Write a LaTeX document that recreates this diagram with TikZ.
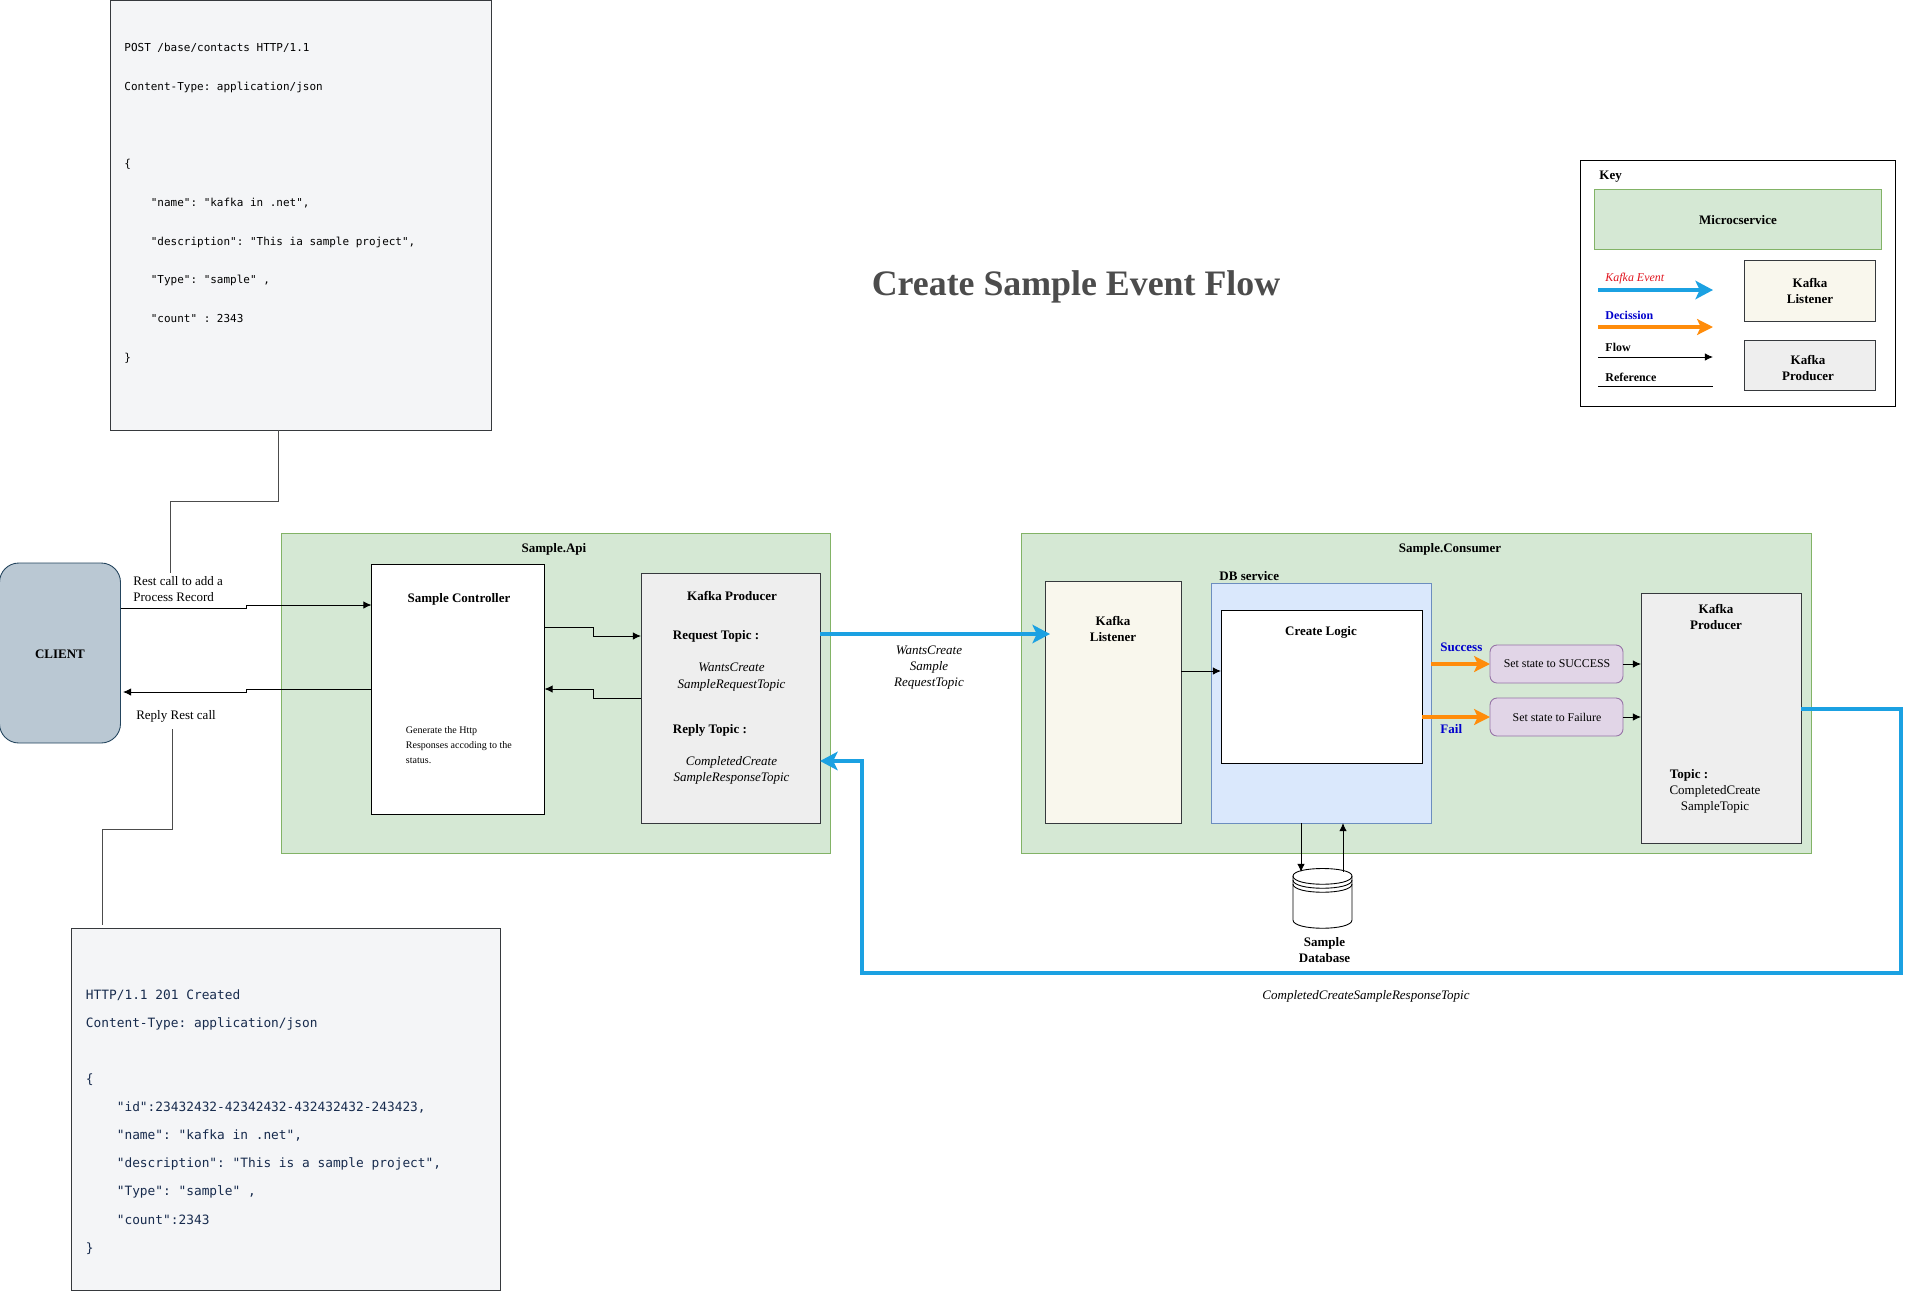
\documentclass[tikz,border=0pt]{standalone}
\usepackage{fontspec}
\setmainfont{Liberation Serif}
\setmonofont{DejaVu Sans Mono}
\usetikzlibrary{arrows.meta}
\newlength\pxu
\setlength\pxu{0.02cm}
\definecolor{svcfill}{HTML}{D5E8D4}
\definecolor{svcline}{HTML}{82B366}
\definecolor{lisfill}{HTML}{F9F7ED}
\definecolor{prodfill}{HTML}{EEEEEE}
\definecolor{boxline}{HTML}{36393D}
\definecolor{codefill}{HTML}{F4F5F7}
\definecolor{codetext}{HTML}{172B4D}
\definecolor{clientfill}{HTML}{BAC8D3}
\definecolor{clientline}{HTML}{23445D}
\definecolor{dbsfill}{HTML}{DAE8FC}
\definecolor{dbsline}{HTML}{6C8EBF}
\definecolor{statefill}{HTML}{E1D5E7}
\definecolor{stateline}{HTML}{9673A6}
\definecolor{kafkablue}{HTML}{1BA1E2}
\definecolor{decorange}{HTML}{FF8C0A}
\definecolor{labelblue}{HTML}{0000CC}
\definecolor{labelred}{HTML}{E1141E}
\tikzset{
	blk/.style={draw, inner sep=0pt, outer sep=0pt},
	svc/.style={blk, fill=svcfill, draw=svcline},
	listener/.style={blk, fill=lisfill, draw=boxline},
	producer/.style={blk, fill=prodfill, draw=boxline},
	whitebox/.style={blk, fill=white},
	state/.style={blk, fill=statefill, draw=stateline, rounded corners=4pt},
	codebox/.style={blk, fill=codefill, draw=boxline},
	txt/.style={inner sep=0pt, align=center, font=\fontsize{7.4}{9.2}\selectfont},
	btxt/.style={txt, font=\fontsize{7.4}{9.2}\selectfont\bfseries},
	itxt/.style={txt, font=\fontsize{7.4}{9.2}\selectfont\itshape},
	code/.style={inner sep=0pt, anchor=north west, align=left},
	flow/.style={->,>={Latex[length=4.6pt,width=4.2pt]}},
	refline/.style={draw=black!70},
	event/.style={-{Stealth[length=10pt,width=10.5pt,inset=2.5pt]}, draw=kafkablue, line width=2.2pt},
	decision/.style={-{Stealth[length=9pt,width=9pt,inset=2pt]}, draw=decorange, line width=1.8pt}
}
\newcommand{\ind}{\phantom{xxxx}}
\begin{document}
\begin{tikzpicture}[x=\pxu, y=-\pxu, line width=0.5pt]
	\useasboundingbox (0,0) rectangle (1911,1292);

	\node[font=\fontsize{20.4}{24}\selectfont\bfseries, text=black!70, inner sep=0pt] (title) at (1076,287) {Create Sample Event Flow};

	% request and response bodies
	\node[codebox, minimum width=381\pxu, minimum height=430\pxu] (req) at (300.5,215) {};
	\node[code, font=\fontsize{6.25}{22}\ttfamily] (reqtext) at (124,43) {POST /base/contacts HTTP/1.1\\
		Content-Type: application/json\\
		\mbox{}\\
		\{\\
		\ind"name": "kafka in .net",\\
		\ind"description": "This ia sample project",\\
		\ind"Type": "sample" ,\\
		\ind"count" : 2343\\
		\}};
	\node[codebox, minimum width=429\pxu, minimum height=362\pxu] (res) at (285.5,1109) {};
	\node[code, font=\fontsize{7.3}{16}\ttfamily, text=codetext] (restext) at (85.5,989) {HTTP/1.1 201 Created\\
		Content-Type: application/json\\
		\mbox{}\\
		\{\\
		\ind"id":23432432-42342432-432432432-243423,\\
		\ind"name": "kafka in .net",\\
		\ind"description": "This is a sample project",\\
		\ind"Type": "sample" ,\\
		\ind"count":2343\\
		\}};

	% client
	\node[blk, fill=clientfill, draw=clientline, rounded corners=11pt, minimum width=121\pxu, minimum height=180\pxu] (client) at (60,653) {};
	\node[btxt] (clienttext) at (60,654) {CLIENT};
	\node[txt, align=left, anchor=west] (resttext) at (133,589) {Rest call to add a\\Process Record};
	\node[txt] (replytext) at (176,716) {Reply Rest call};

	% Sample.Api
	\node[svc, minimum width=549\pxu, minimum height=320\pxu] (api) at (555.5,693) {};
	\node[btxt] (apitext) at (554,549) {Sample.Api};
	\node[whitebox, minimum width=173\pxu, minimum height=250\pxu] (ctrl) at (458,689) {};
	\node[btxt] (ctrltext) at (459,599) {Sample Controller};
	\node[txt, font=\fontsize{5.7}{8.7}\selectfont, align=left, anchor=west] (ctrlnote) at (405.5,745) {Generate the Http\\Responses accoding to the\\status.};
	\node[producer, minimum width=179\pxu, minimum height=250\pxu] (prod) at (730.5,698) {};
	\node[btxt] (prodtext) at (732,596) {Kafka Producer};
	\node[btxt, anchor=west] (reqtopic) at (672.5,636.5) {Request Topic :};
	\node[itxt] (reqname) at (731.5,677) {WantsCreate\\SampleRequestTopic};
	\node[btxt, anchor=west] (reptopic) at (672.5,730.5) {Reply Topic :};
	\node[itxt] (repname) at (731.5,770) {CompletedCreate\\SampleResponseTopic};

	% Sample.Consumer
	\node[svc, minimum width=790\pxu, minimum height=320\pxu] (cons) at (1416.5,693) {};
	\node[btxt] (constext) at (1450,549) {Sample.Consumer};
	\node[listener, minimum width=136\pxu, minimum height=242\pxu] (lis) at (1113,702) {};
	\node[btxt] (listext) at (1113,629) {Kafka\\Listener};
	\node[blk, fill=dbsfill, draw=dbsline, minimum width=220\pxu, minimum height=240\pxu] (dbs) at (1321,703) {};
	\node[btxt, anchor=west] (dbstext) at (1219,576) {DB service};
	\node[whitebox, minimum width=201\pxu, minimum height=153\pxu] (logic) at (1321.5,686.5) {};
	\node[btxt] (logictext) at (1321,632) {Create Logic};
	\node[state, minimum width=133\pxu, minimum height=38\pxu] (ok) at (1556.5,664) {};
	\node[txt, font=\fontsize{6.75}{8}\selectfont] (oktext) at (1557,664) {Set state to SUCCESS};
	\node[state, minimum width=133\pxu, minimum height=38\pxu] (fail) at (1556.5,717) {};
	\node[txt, font=\fontsize{6.75}{8}\selectfont] (failtext) at (1557,717) {Set state to Failure};
	\node[btxt, text=labelblue, anchor=west] (oklabel) at (1440,647) {Success};
	\node[btxt, text=labelblue, anchor=west] (faillabel) at (1440,729) {Fail};
	\node[producer, minimum width=160\pxu, minimum height=250\pxu] (prodb) at (1721,718) {};
	\node[btxt] (prodbtext) at (1716,617) {Kafka\\Producer};
	\node[btxt, anchor=west] (topictext) at (1669.5,775.5) {Topic :};
	\node[txt] (topicname) at (1715,799) {CompletedCreate\\SampleTopic};

	% database
	\node[minimum width=60\pxu, minimum height=60\pxu, inner sep=0pt, outer sep=0pt] (db) at (1322,898) {};
	\draw[fill=white] (1293,876) .. controls (1293,866) and (1352,866) .. (1352,876) -- (1352,920)
		.. controls (1352,931) and (1293,931) .. (1293,920) -- cycle;
	\foreach \dy in {876,880,884}
		\draw (1293,\dy) .. controls (1293,\dy+11) and (1352,\dy+11) .. (1352,\dy);
	\node[btxt] (dbtext) at (1324.5,950) {Sample\\Database};

	% connectors
	\draw[refline] (req.south -| 278,0) -- (278,501) -- (170,501) -- (170,573);
	\draw[refline] (172,729) -- (172,829) -- (102,829) -- (102,925);
	\draw[flow] (client.east |- 0,608) -- (246,608) -- (246,605) -- (ctrl.west |- 0,605);
	\draw[flow] (ctrl.west |- 0,689) -- (246,689) -- (246,692) -- (123,692);
	\draw[flow] (ctrl.east |- 0,627) -- (593,627) -- (593,636) -- (prod.west |- 0,636);
	\draw[flow] (prod.west |- 0,698) -- (593,698) -- (593,689) -- (ctrl.east |- 0,689);
	\draw[flow] (lis.east |- 0,671) -- (logic.west |- 0,671);
	\draw[flow] (ok.east) -- (prodb.west |- ok.east);
	\draw[flow] (fail.east) -- (prodb.west |- fail.east);
	\draw[flow] (dbs.south -| 1301,0) -- (1301,872);
	\draw[flow] (1343,872) -- (dbs.south -| 1343,0);
	\draw[decision] (dbs.east |- ok.west) -- (ok.west);
	\draw[decision] (logic.east |- fail.west) -- (fail.west);
	\draw[event, shorten >=-5\pxu] (prod.east |- 0,634) -- (lis.west |- 0,634);
	\draw[event] (prodb.east |- 0,709) -- (1901,709) -- (1901,973) -- (862,973) -- (862,761) -- (prod.east |- 0,761);
	\node[itxt] (wantslabel) at (929,667.5) {WantsCreate\\Sample\\RequestTopic};
	\node[itxt] (donelabel) at (1366,996) {CompletedCreateSampleResponseTopic};

	% key
	\node[whitebox, minimum width=315\pxu, minimum height=246\pxu] (key) at (1737.5,283) {};
	\node[btxt, anchor=west] (keytext) at (1599,177) {Key};
	\node[svc, minimum width=287\pxu, minimum height=60\pxu] (keysvc) at (1738,219) {};
	\node[btxt] (keysvctext) at (1738,220) {Microcservice};
	\node[listener, minimum width=131\pxu, minimum height=61\pxu] (keylis) at (1810,290.5) {};
	\node[btxt] (keylistext) at (1810,291) {Kafka\\Listener};
	\node[producer, minimum width=131\pxu, minimum height=50\pxu] (keyprod) at (1810,365) {};
	\node[btxt] (keyprodtext) at (1808,368) {Kafka\\Producer};
	\coordinate (k1) at (1598,290); \coordinate (k1e) at (1713,290);
	\coordinate (k2) at (1598,327); \coordinate (k2e) at (1713,327);
	\coordinate (k3) at (1598,357); \coordinate (k3e) at (1713,357);
	\coordinate (k4) at (1598,386); \coordinate (k4e) at (1713,386);
	\draw[event] (k1) -- (k1e);
	\draw[decision] (k2) -- (k2e);
	\draw[flow] (k3) -- (k3e);
	\draw (k4) -- (k4e);
	\node[itxt, text=labelred, anchor=west, font=\fontsize{6.8}{8}\selectfont\itshape] (k1text) at (1605,278.5) {Kafka Event};
	\node[btxt, text=labelblue, anchor=west, font=\fontsize{6.8}{8}\selectfont\bfseries] (k2text) at (1605,315) {Decission};
	\node[btxt, anchor=west, font=\fontsize{6.8}{8}\selectfont\bfseries] (k3text) at (1605,347) {Flow};
	\node[btxt, anchor=west, font=\fontsize{6.8}{8}\selectfont\bfseries] (k4text) at (1605,377) {Reference};
\end{tikzpicture}
\end{document}
